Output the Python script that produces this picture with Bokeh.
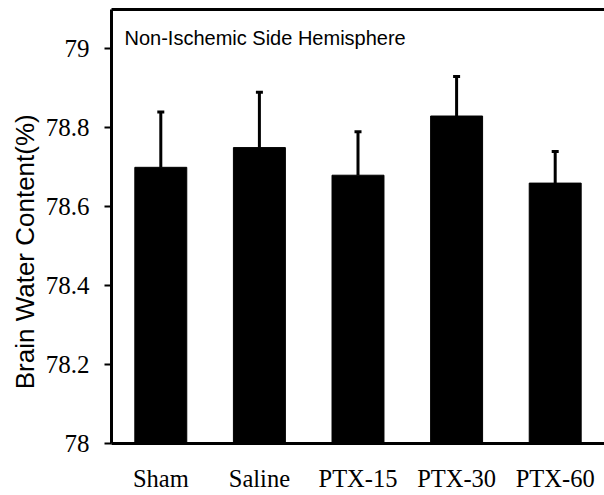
from bokeh.plotting import figure
from bokeh.models import (ColumnDataSource, Whisker, TeeHead, Label, LinearAxis,
                          FixedTicker, CustomJSTickFormatter, Range1d)
from bokeh.embed import file_html
from bokeh.resources import INLINE

categories = ["Sham", "Saline", "PTX-15", "PTX-30", "PTX-60"]
means = [78.70, 78.75, 78.68, 78.83, 78.66]
errors = [0.14, 0.14, 0.11, 0.10, 0.08]
y_ticks = [78, 78.2, 78.4, 78.6, 78.8, 79]
title_text = "Non-Ischemic Side Hemisphere"
y_label_text = "Brain Water Content(%)"

upper = [m + e for m, e in zip(means, errors)]
src = ColumnDataSource(dict(cat=categories, mean=means, upper=upper))

p = figure(x_range=categories, y_range=Range1d(78, 79.1),
           width=604, height=495, output_backend="svg", toolbar_location=None,
           min_border_left=111, min_border_right=0, min_border_top=9,
           min_border_bottom=52)
p.outline_line_color = None
p.background_fill_color = "white"
p.border_fill_color = "white"
p.xgrid.visible = False
p.ygrid.visible = False
p.x_range.range_padding = 0

p.vbar(x="cat", top="mean", bottom=78, width=0.527, source=src,
       fill_color="black", line_color="black", line_width=1)

w = Whisker(base="cat", lower="mean", upper="upper", source=src,
            line_color="black", line_width=3,
            upper_head=TeeHead(size=7, line_width=3, line_color="black"),
            lower_head=None)
p.add_layout(w)

# y axis
p.yaxis.ticker = FixedTicker(ticks=y_ticks)
p.yaxis.formatter = CustomJSTickFormatter(code="return tick.toFixed(1).replace(/\\.0$/, '');")
p.yaxis.minor_tick_line_color = None
p.yaxis.major_tick_in = 0
p.yaxis.major_tick_out = 7
p.yaxis.major_tick_line_width = 2
p.yaxis.axis_line_width = 3
p.yaxis.major_label_standoff = 15
p.yaxis.major_label_text_font = "Liberation Serif"
p.yaxis.major_label_text_font_size = "25px"
p.yaxis.major_label_text_font_style = "normal"
p.yaxis.major_label_text_color = "black"
# trailing no-break spaces shift the centred label slightly downward, as in the original
p.yaxis.axis_label = y_label_text + "\u00a0" * 7
p.yaxis.axis_label_text_font = "Liberation Sans"
p.yaxis.axis_label_text_font_size = "26px"
p.yaxis.axis_label_text_font_style = "normal"
p.yaxis.axis_label_text_color = "black"
p.yaxis.axis_label_standoff = 3

# x axis
p.xaxis.major_tick_line_color = None
p.xaxis.minor_tick_line_color = None
p.xaxis.axis_line_width = 3
p.xaxis.major_label_standoff = 15
p.xaxis.major_label_text_line_height = 1.0
p.xaxis.major_label_text_font = "Liberation Serif"
p.xaxis.major_label_text_font_size = "24.5px"
p.xaxis.major_label_text_font_style = "normal"
p.xaxis.major_label_text_color = "black"

# top border line
top = LinearAxis(ticker=FixedTicker(ticks=[]), axis_line_width=3,
                 major_tick_out=0, major_tick_in=0, major_label_standoff=0,
                 major_label_text_font_size="0px", minor_tick_line_color=None)
p.add_layout(top, "above")

p.add_layout(Label(x=0, y=79.1, text=title_text, x_offset=13, y_offset=-28.5,
                   text_font="Liberation Sans", text_font_size="20px",
                   text_baseline="middle", text_align="left", text_color="black"))

open("out.html", "w").write(file_html(p, INLINE))
